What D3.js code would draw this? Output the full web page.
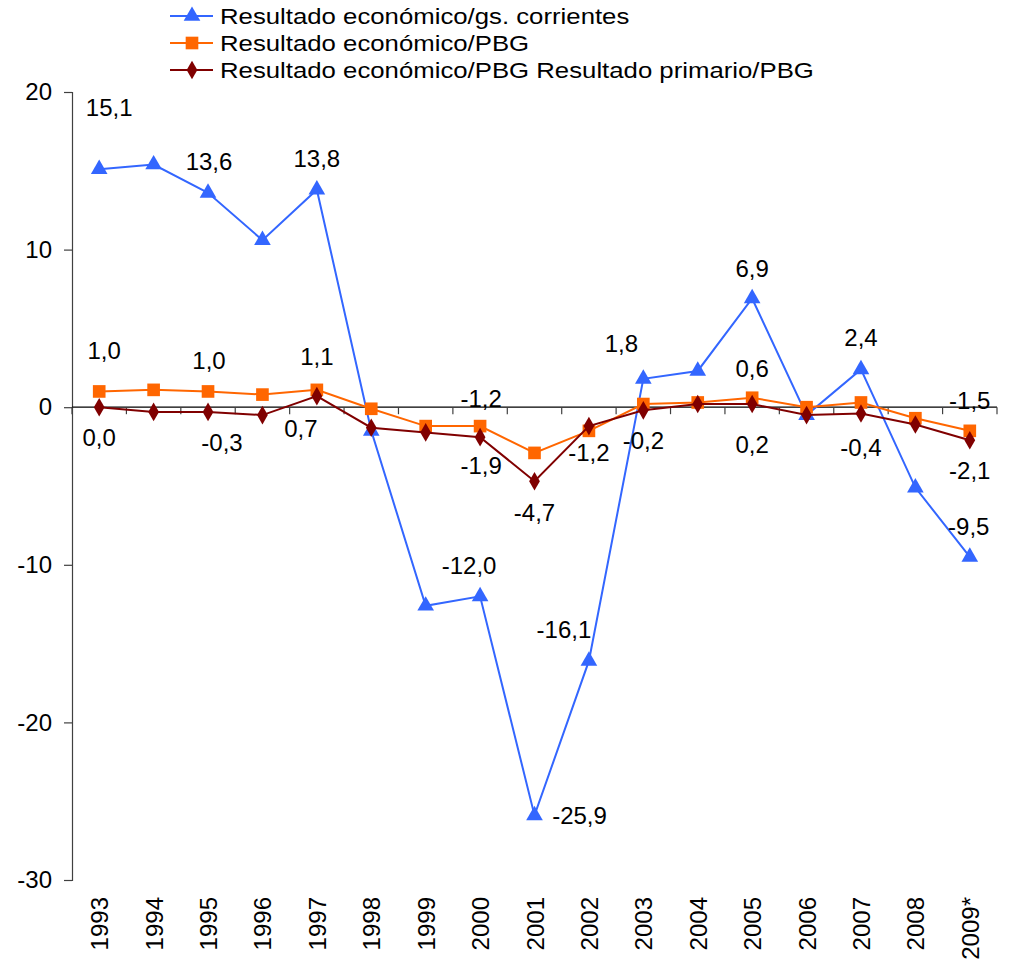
<!DOCTYPE html>
<html><head><meta charset="utf-8">
<script src="https://cdn.jsdelivr.net/npm/d3@7"></script>
<style>body{margin:0;background:#fff}svg{display:block}text{font-family:"Liberation Sans",Arial,sans-serif;fill:#000}</style>
</head><body><div id="chart"></div>
<script>
const years = ["1993","1994","1995","1996","1997","1998","1999","2000","2001","2002","2003","2004","2005","2006","2007","2008","2009*"];
const seriesNames = ["Resultado económico/gs. corrientes","Resultado económico/PBG","Resultado económico/PBG Resultado primario/PBG"];
const corrientes = [15.1,15.4,13.6,10.6,13.8,-1.5,-12.6,-12.0,-25.9,-16.1,1.8,2.3,6.9,-0.5,2.4,-5.1,-9.5];
const economicoPBG = [1.0,1.1,1.0,0.8,1.1,-0.1,-1.2,-1.2,-2.9,-1.5,0.2,0.3,0.6,0.0,0.3,-0.7,-1.5];
const primarioPBG = [0.0,-0.3,-0.3,-0.5,0.7,-1.3,-1.6,-1.9,-4.7,-1.2,-0.2,0.2,0.2,-0.5,-0.4,-1.1,-2.1];
const yTicks = [20,10,0,-10,-20,-30];
// which points carry a data label (by year)
const labelsCorr = ["1993","1995","1997","2000","2001","2002","2003","2005","2007","2009*"];
const labelsEco = ["1993","1995","1997","2000","2005","2009*"];
const labelsPrim = ["1993","1995","1997","2000","2001","2002","2003","2005","2007","2009*"];

// label offsets (layout only)
const offCorr = {"1993":[10,-62],"1995":[1,-31],"1997":[0,-31],"2000":[-11,-31],"2001":[45,0],"2002":[-25,-31],"2003":[-22,-35],"2005":[0,-30],"2007":[0,-32],"2009*":[-1,-30]};
const offEco = {"1993":[5,-41],"1995":[1,-31],"1997":[0,-33],"2000":[1,-28],"2005":[0,-29],"2009*":[0,-30]};
const offPrim = {"1993":[0,30],"1995":[14,31],"1997":[-16,32],"2000":[1,28],"2001":[0,31],"2002":[0,26],"2003":[0,30],"2005":[0,40],"2007":[0,34],"2009*":[0,30]};

const W=1012,H=964;
const svg=d3.select("#chart").append("svg").attr("width",W).attr("height",H);
const x=d3.scaleBand().domain(years).range([72,997]).padding(0);
const y=d3.scaleLinear().domain([-30,20]).range([880,92]);
const cx=d=>x(d)+x.bandwidth()/2;
const axisColor="#404040";

// y axis
const ya=svg.append("g").attr("transform","translate(72,0)").call(d3.axisLeft(y).tickValues(yTicks).tickSize(8).tickPadding(12).tickFormat(d=>d));
ya.select(".domain").attr("stroke",axisColor).attr("stroke-width",1.2);
ya.selectAll(".tick line").attr("stroke",axisColor).attr("stroke-width",1.2);
ya.selectAll("text").style("font-size","24px").attr("fill","#000");

// x axis at zero
const bounds=d3.range(years.length+1).map(i=>72+i*x.bandwidth());
const xg=svg.append("g");
xg.append("line").attr("x1",72).attr("x2",997).attr("y1",y(0)).attr("y2",y(0)).attr("stroke","#000").attr("stroke-width",1.2);
xg.selectAll("line.t").data(bounds).join("line").attr("class","t")
  .attr("x1",d=>d).attr("x2",d=>d).attr("y1",y(0)).attr("y2",y(0)+7).attr("stroke",axisColor).attr("stroke-width",1.2);
// year labels
svg.append("g").selectAll("text").data(years).join("text")
  .attr("transform",d=>`translate(${cx(d)+9},897) rotate(-90)`)
  .attr("text-anchor","end").style("font-size","24px").text(d=>d);

const series=[
 {name:seriesNames[0],vals:corrientes,color:"#3366FF",marker:d3.symbolTriangle,size:120,labels:labelsCorr,off:offCorr},
 {name:seriesNames[1],vals:economicoPBG,color:"#FF6600",marker:d3.symbolSquare,size:160,labels:labelsEco,off:offEco},
 {name:seriesNames[2],vals:primarioPBG,color:"#800000",marker:d3.symbolDiamond,size:100,labels:labelsPrim,off:offPrim}
];
const line=d3.line().x(d=>cx(d.year)).y(d=>y(d.v));
series.forEach(s=>{
  const pts=years.map((yr,i)=>({year:yr,v:s.vals[i]}));
  const g=svg.append("g");
  g.append("path").datum(pts).attr("d",line).attr("fill","none").attr("stroke",s.color).attr("stroke-width",2);
  g.selectAll("path.m").data(pts).join("path").attr("class","m")
   .attr("transform",d=>`translate(${cx(d.year)},${y(d.v)})`)
   .attr("d",d3.symbol().type(s.marker).size(s.size)).attr("fill",s.color);
});
const fmt=v=>v.toFixed(1).replace(".",",");
series.forEach(s=>{
  const pts=years.map((yr,i)=>({year:yr,v:s.vals[i]})).filter(d=>s.labels.includes(d.year));
  svg.append("g").selectAll("text").data(pts).join("text")
   .attr("x",d=>cx(d.year)+s.off[d.year][0]).attr("y",d=>y(d.v)+s.off[d.year][1])
   .attr("text-anchor","middle").attr("dominant-baseline","central")
   .style("font-size","24px").text(d=>fmt(d.v));
});

// legend
const lg=svg.append("g");
series.forEach((s,i)=>{
  const yy=16+i*27;
  lg.append("line").attr("x1",170).attr("x2",213).attr("y1",yy).attr("y2",yy).attr("stroke",s.color).attr("stroke-width",2);
  lg.append("path").attr("transform",`translate(192,${yy})`).attr("d",d3.symbol().type(s.marker).size(s.size)).attr("fill",s.color);
  lg.append("text").attr("transform",`translate(220,${yy}) scale(1.12,1)`).attr("dominant-baseline","central").style("font-size","23px").text(s.name);
});
</script></body></html>
